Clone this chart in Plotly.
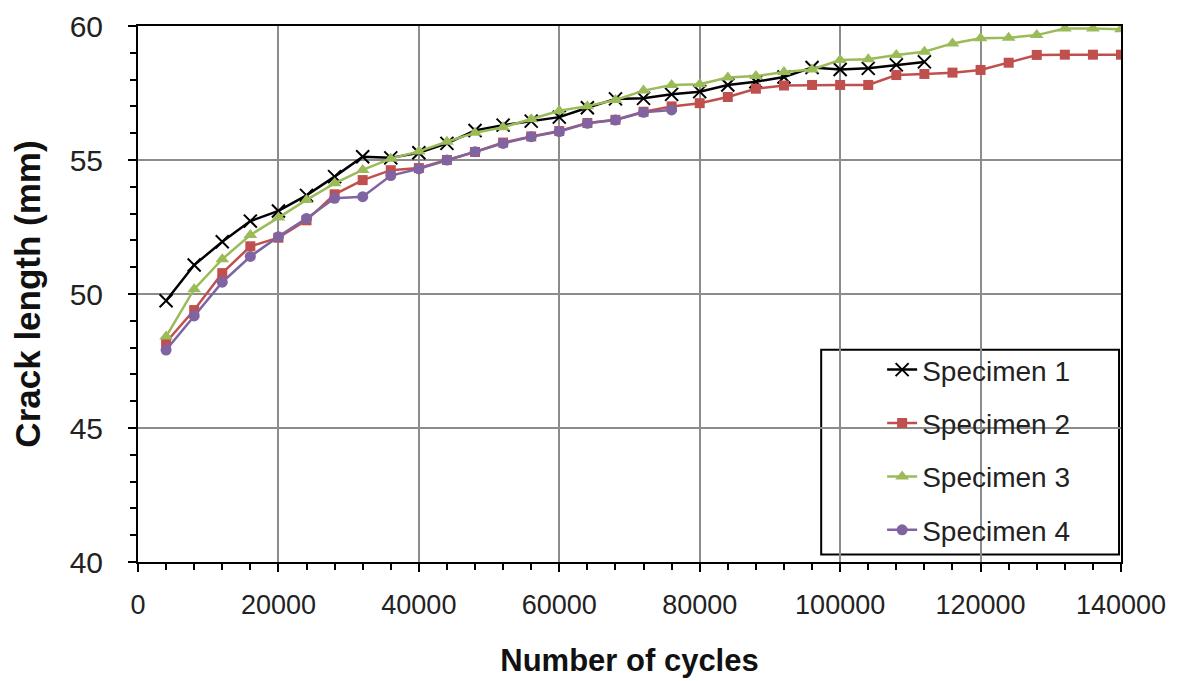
import plotly.graph_objects as go

cycles = [4000 * i for i in range(1, 36)]

spec1 = [49.75, 51.08, 51.95, 52.72, 53.1, 53.68, 54.38, 55.12, 55.08, 55.27,
         55.62, 56.1, 56.3, 56.45, 56.6, 56.95, 57.28, 57.3, 57.45, 57.55,
         57.8, 57.92, 58.1, 58.45, 58.38, 58.42, 58.55, 58.66]
spec2 = [48.2, 49.4, 50.78, 51.78, 52.1, 52.75, 53.72, 54.25, 54.62, 54.7,
         55.0, 55.3, 55.65, 55.88, 56.08, 56.38, 56.5, 56.8, 57.0, 57.12,
         57.35, 57.66, 57.78, 57.8, 57.8, 57.8, 58.17, 58.21, 58.26, 58.36,
         58.63, 58.92, 58.93, 58.93, 58.93]
spec3 = [48.41, 50.18, 51.3, 52.2, 52.85, 53.51, 54.13, 54.63, 55.05, 55.32,
         55.68, 56.02, 56.22, 56.52, 56.84, 57.01, 57.24, 57.59, 57.8, 57.83,
         58.08, 58.13, 58.28, 58.38, 58.73, 58.76, 58.92, 59.04, 59.35, 59.54,
         59.56, 59.66, 59.91, 59.91, 59.88]
spec4 = [47.91, 49.18, 50.44, 51.4, 52.14, 52.82, 53.57, 53.63, 54.42, 54.67,
         55.0, 55.31, 55.62, 55.87, 56.06, 56.37, 56.49, 56.78, 56.87]

names = ["Specimen 1", "Specimen 2", "Specimen 3", "Specimen 4"]
series = [spec1, spec2, spec3, spec4]
colors = ["#000000", "#C0504D", "#9BBB59", "#8064A2"]
symbols = ["x-thin", "square", "triangle-up", "circle"]
sizes = [13, 10, 12, 11]

FONT = "Liberation Sans, Arial, sans-serif"

fig = go.Figure()
for i, (nm, ys) in enumerate(zip(names, series)):
    marker = dict(symbol=symbols[i], size=sizes[i], color=colors[i])
    if symbols[i] == "x-thin":
        marker["line"] = dict(width=2, color=colors[i])
    fig.add_trace(go.Scatter(
        x=cycles[:len(ys)], y=ys, name=nm, mode="lines+markers",
        line=dict(color=colors[i], width=2.5),
        marker=marker, legendgroup=f"g{i}",
    ))

fig.add_shape(type="rect", xref="paper", yref="paper",
              x0=0.695, x1=0.998, y0=0.014, y1=0.396,
              line=dict(color="black", width=2), fillcolor="white", layer="below")

fig.update_layout(
    width=1189, height=681,
    margin=dict(l=130, r=76, t=18, b=127),
    paper_bgcolor="white", plot_bgcolor="white",
    font=dict(family=FONT, size=26, color="#222"),
    showlegend=True,
    legend=dict(x=0.757, y=0.405, xanchor="left", yanchor="top",
                bgcolor="rgba(0,0,0,0)", borderwidth=0,
                font=dict(family=FONT, size=28, color="#222"),
                tracegroupgap=14),
    xaxis=dict(
        range=[0, 140000], tickmode="linear", tick0=0, dtick=20000,
        tickformat="d", automargin=False,
        showgrid=True, gridcolor="#8c8c8c", gridwidth=1.8,
        showline=True, linecolor="black", linewidth=2, mirror=True,
        ticks="outside", ticklen=8, tickcolor="black", tickwidth=1.5,
        minor=dict(dtick=4000, ticks="outside", ticklen=6, tickcolor="black", showgrid=False),
        ticklabelstandoff=10,
        tickfont=dict(family=FONT, size=27, color="#222"),
        title=dict(text="<b>Number of cycles</b>", font=dict(family=FONT, size=31, color="#111"), standoff=30),
        zeroline=False,
    ),
    yaxis=dict(
        range=[40, 60], tickmode="linear", tick0=40, dtick=5, automargin=False,
        showgrid=True, gridcolor="#8c8c8c", gridwidth=1.8,
        showline=True, linecolor="black", linewidth=2, mirror=True,
        ticks="outside", ticklen=8, tickcolor="black", tickwidth=1.5,
        minor=dict(dtick=1, ticks="outside", ticklen=6, tickcolor="black", showgrid=False),
        ticklabelstandoff=19,
        tickfont=dict(family=FONT, size=30, color="#222"),
        title=dict(text="<b>Crack length (mm)</b>", font=dict(family=FONT, size=35, color="#111"), standoff=20),
        zeroline=False,
    ),
)

fig.write_html("out.html")
